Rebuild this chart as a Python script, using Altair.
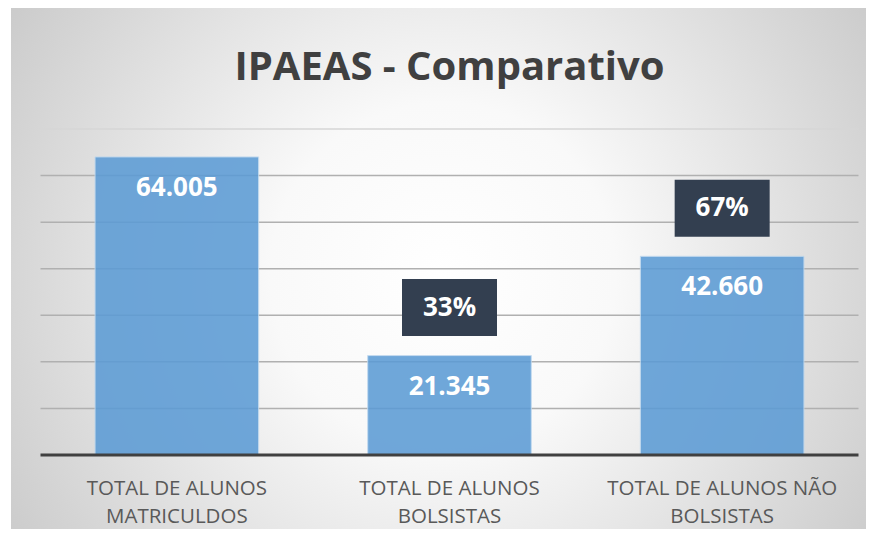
import altair as alt
import pandas as pd

# ---- data ----
cat_ids = ["matriculados", "bolsistas", "nao_bolsistas"]
cat_labels = ["TOTAL DE ALUNOS\nMATRICULDOS", "TOTAL DE ALUNOS\nBOLSISTAS", "TOTAL DE ALUNOS NÃO\nBOLSISTAS"]
values = [64005, 21345, 42660]
percents = ["", "33%", "67%"]
grid_values = [10000, 20000, 30000, 40000, 50000, 60000, 70000]
title_text = "IPAEAS - Comparativo"

W, H = 818, 326

df = pd.DataFrame({"cat": cat_ids, "value": values, "pct": percents, "label": cat_labels})
grid_df = pd.DataFrame({"g": grid_values})
one = pd.DataFrame({"k": [0]})

x_enc = alt.X("cat:N", sort=cat_ids,
              scale=alt.Scale(paddingInner=0.4, paddingOuter=0.2), axis=None)
y_scale = alt.Scale(domain=[0, 70000])

bg = alt.Chart(one).mark_rect(
    color=alt.RadialGradient(
        gradient="radial",
        stops=[alt.GradientStop(offset=0, color="#ffffff"),
               alt.GradientStop(offset=0.3, color="#f9f9f9"),
               alt.GradientStop(offset=1, color="#c2c2c2")],
        x1=0.5, y1=0.5, r1=0, x2=0.5, y2=0.5, r2=0.5),
).encode(x=alt.value(-29.5), x2=alt.value(W + 16),
         y=alt.value(-429), y2=alt.value(721))

grid = alt.Chart(grid_df).mark_rule(strokeWidth=1.5).encode(
    y=alt.Y("g:Q", scale=y_scale, axis=None),
    x=alt.value(0), x2=alt.value(W),
    color=alt.condition(alt.datum.g == 70000, alt.value("#d6d6d6"), alt.value("#b0b0b0")),
)

bars = alt.Chart(df).mark_bar(color="#5B9BD5", opacity=0.87, stroke="#BDD7EE", strokeWidth=1).encode(
    x=x_enc,
    y=alt.Y("value:Q", scale=y_scale, axis=None),
)

baseline = alt.Chart(one).mark_rule(color="#404040", strokeWidth=3).encode(
    y=alt.value(H), x=alt.value(0), x2=alt.value(W)
)

value_text = alt.Chart(df).transform_calculate(
    txt="replace(format(datum.value, ','), ',', '.')"
).mark_text(font="Open Sans", fontWeight="bold", fontSize=26, color="white",
            baseline="alphabetic", dy=39).encode(
    x=x_enc, y=alt.Y("value:Q", scale=y_scale, axis=None), text="txt:N"
)

pct_box = alt.Chart(df).transform_filter("datum.pct != ''").mark_rect(
    color="#333F50", width=95, height=57, yOffset=-48).encode(
    x=x_enc, y=alt.Y("value:Q", scale=y_scale, axis=None)
)

pct_text = alt.Chart(df).transform_filter("datum.pct != ''").mark_text(
    font="Open Sans", fontWeight="bold", fontSize=26, color="white",
    baseline="middle", yOffset=-48).encode(
    x=x_enc, y=alt.Y("value:Q", scale=y_scale, axis=None), text="pct:N"
)

cat_text = alt.Chart(df).mark_text(
    font="Open Sans", fontSize=20.5, color="#595959", baseline="alphabetic",
    lineBreak="\n", lineHeight=28).encode(
    x=x_enc, y=alt.value(366), text="label:N"
)

title = alt.Chart(one).mark_text(
    text=title_text, font="Open Sans", fontWeight="bold", fontSize=40,
    color="#404040", baseline="alphabetic", align="center").encode(
    x=alt.value(W / 2), y=alt.value(-49)
)

chart = alt.layer(bg, grid, bars, baseline, value_text, pct_box, pct_text, cat_text, title).properties(
    width=W, height=H,
    autosize=alt.AutoSizeParams(type="none"),
    padding={"left": 32.5, "top": 121, "right": 7.5, "bottom": 74},
    background="white",
).configure_view(stroke=None)

chart.save("out.html", embed_options={"renderer": "svg", "actions": False})
